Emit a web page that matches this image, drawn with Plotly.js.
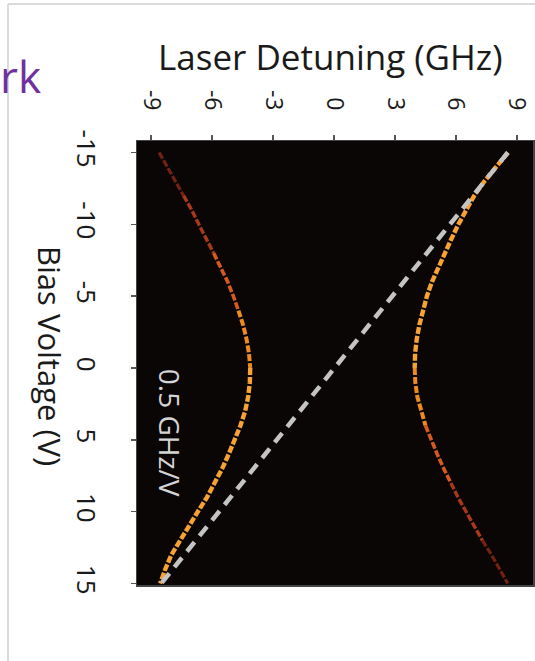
<!DOCTYPE html>
<html>
<head>
<meta charset="utf-8">
<script src="https://cdn.plot.ly/plotly-3.0.1.min.js"></script>
<style>html,body{margin:0;padding:0;background:#fff;}#chart{width:535px;height:661px;}</style>
</head>
<body>
<div id="chart"></div>
<script>
// Bias voltage (V) samples
const bias = [-15,-14,-13,-12,-11,-10,-9,-8,-7,-6,-5,-4,-3,-2,-1,0,1,2,3,4,5,6,7,8,9,10,11,12,13,14,15];
// Upper branch detuning (GHz)
const upperDet = [8.56,7.95,7.4,6.9,6.5,6.12,5.78,5.45,5.12,4.82,4.57,4.36,4.2,4.07,3.99,3.97,4.0,4.1,4.28,4.5,4.78,5.08,5.4,5.75,6.1,6.5,6.9,7.3,7.75,8.15,8.55];
// Lower branch detuning (GHz)
const lowerDet = [-8.6,-8.2,-7.8,-7.4,-7.0,-6.65,-6.27,-5.92,-5.57,-5.23,-4.95,-4.7,-4.47,-4.3,-4.18,-4.12,-4.14,-4.22,-4.37,-4.6,-4.88,-5.18,-5.5,-5.85,-6.25,-6.7,-7.15,-7.6,-8.0,-8.3,-8.55];
// Guide line (0.5 GHz/V)
const guideBias = [-15, 15];
const guideDet = [8.55, -8.5];
// Tick labels
const detTicks = [-9,-6,-3,0,3,6,9];
const biasTicks = [-15,-10,-5,0,5,10,15];

const upperSegs = [[0,15,'#f7a232',4.4],[15,19,'#ee8a20',4],[19,23,'#d65a1e',3.6],[23,27,'#a83818',3.4],[27,30,'#742210',3.2]];
const lowerSegs = [[15,30,'#f7a232',4.4],[11,15,'#ee8a20',4],[7,11,'#d65a1e',3.6],[3,7,'#a83818',3.4],[0,3,'#742210',3.2]];

const traces = [];
function addSegs(det, segs){
  segs.forEach(s => {
    traces.push({
      type:'scatter', mode:'lines',
      x: det.slice(s[0], s[1]+1), y: bias.slice(s[0], s[1]+1),
      line:{color:s[2], width:s[3], shape:'linear', dash:'7px,2px'},
      hoverinfo:'skip', showlegend:false
    });
  });
}
addSegs(upperDet, upperSegs);
addSegs(lowerDet, lowerSegs);
traces.push({
  type:'scatter', mode:'lines', x: guideDet, y: guideBias,
  line:{color:'#c4c4c4', width:4.5, dash:'12px,8px'},
  hoverinfo:'skip', showlegend:false
});

const FONT = 'Open Sans, Noto Sans, sans-serif';
const layout = {
  width:535, height:661,
  margin:{l:137, r:2, t:141, b:76},
  paper_bgcolor:'#ffffff', plot_bgcolor:'#0a0606',
  showlegend:false,
  xaxis:{
    side:'top', range:[-9.69, 9.79], tickvals:detTicks, ticktext:detTicks.map(String),
    tickangle:90, ticks:'outside', ticklen:5, tickwidth:1.5, tickcolor:'#555',
    tickfont:{family:FONT, size:23, color:'#1a1a1a'},
    showgrid:false, zeroline:false, showline:true, linecolor:'#444', linewidth:1.5, mirror:true,
    ticklabelstandoff:16
  },
  yaxis:{
    range:[15.1, -15.8], tickvals:biasTicks, ticktext:biasTicks.map(String),
    tickangle:90, ticks:'outside', ticklen:5, tickwidth:1.5, tickcolor:'#555',
    tickfont:{family:FONT, size:26, color:'#1a1a1a'},
    showgrid:false, zeroline:false, showline:true, linecolor:'#444', linewidth:1.5, mirror:true,
    ticklabelstandoff:22
  },
  annotations:[
    {text:'Laser Detuning (GHz)', xref:'paper', yref:'paper', x:(330-137)/396, y:(585-56)/444,
     xanchor:'center', yanchor:'middle', showarrow:false, font:{family:FONT, size:35, color:'#1a1a1a'}},
    {text:'Bias Voltage (V)', xref:'paper', yref:'paper', x:(50-137)/396, y:(585-356)/444,
     xanchor:'center', yanchor:'middle', textangle:90, showarrow:false, font:{family:FONT, size:31, color:'#1a1a1a'}},
    {text:'0.5 GHz/V', xref:'x', yref:'y', x:-8.07, y:4.5, xanchor:'center', yanchor:'middle',
     textangle:90, showarrow:false, font:{family:FONT, size:28, color:'#d4d4d4'}},
    {text:'rk', xref:'paper', yref:'paper', x:(-2-137)/396, y:(585-76)/444, xanchor:'left', yanchor:'middle',
     showarrow:false, font:{family:FONT, size:44, color:'#7030a0'}}
  ],
  shapes:[
    {type:'line', xref:'paper', yref:'paper', x0:(8-137)/396, x1:(536-137)/396, y0:(585-4)/444, y1:(585-4)/444, line:{color:'#cfcfcf', width:1.5}},
    {type:'line', xref:'paper', yref:'paper', x0:(8-137)/396, x1:(8-137)/396, y0:(585-4)/444, y1:(585-662)/444, line:{color:'#cfcfcf', width:1.5}}
  ]
};
Plotly.newPlot('chart', traces, layout, {displayModeBar:false, staticPlot:true});
</script>
</body>
</html>
